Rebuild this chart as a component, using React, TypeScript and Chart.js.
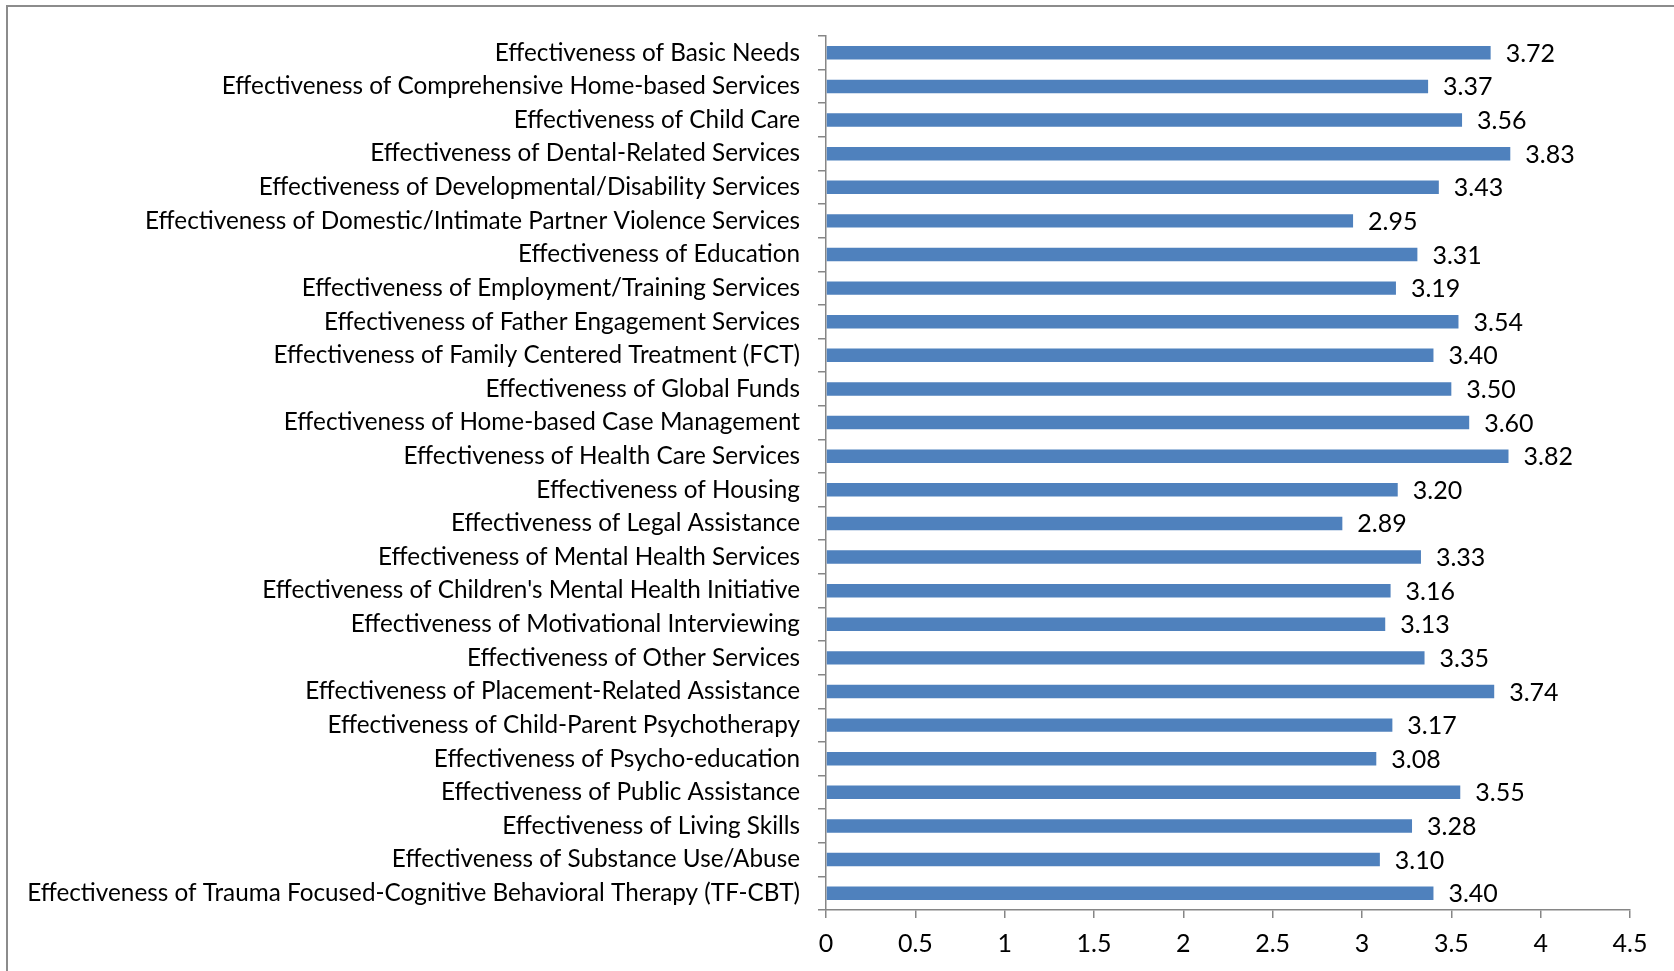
import React, { useEffect, useRef } from "react";
import { Chart, registerables } from "chart.js";

Chart.register(...registerables);

const categories = [
  "Effectiveness of Basic Needs",
  "Effectiveness of Comprehensive Home-based Services",
  "Effectiveness of Child Care",
  "Effectiveness of Dental-Related Services",
  "Effectiveness of Developmental/Disability Services",
  "Effectiveness of Domestic/Intimate Partner Violence Services",
  "Effectiveness of Education",
  "Effectiveness of Employment/Training Services",
  "Effectiveness of Father Engagement Services",
  "Effectiveness of Family Centered Treatment (FCT)",
  "Effectiveness of Global Funds",
  "Effectiveness of Home-based Case Management",
  "Effectiveness of Health Care Services",
  "Effectiveness of Housing",
  "Effectiveness of Legal Assistance",
  "Effectiveness of Mental Health Services",
  "Effectiveness of Children's Mental Health Initiative",
  "Effectiveness of Motivational Interviewing",
  "Effectiveness of Other Services",
  "Effectiveness of Placement-Related Assistance",
  "Effectiveness of Child-Parent Psychotherapy",
  "Effectiveness of Psycho-education",
  "Effectiveness of Public Assistance",
  "Effectiveness of Living Skills",
  "Effectiveness of Substance Use/Abuse",
  "Effectiveness of Trauma Focused-Cognitive Behavioral Therapy (TF-CBT)",
];

const values = [
  3.72, 3.37, 3.56, 3.83, 3.43, 2.95, 3.31, 3.19, 3.54, 3.4, 3.5, 3.6, 3.82,
  3.2, 2.89, 3.33, 3.16, 3.13, 3.35, 3.74, 3.17, 3.08, 3.55, 3.28, 3.1, 3.4,
];

const xMin = 0;
const xMax = 4.5;
const xStep = 0.5;

const FONT = "Lato, 'Liberation Sans', sans-serif";
const AXIS_COLOR = "#868686";
const BAR_COLOR = "#4F81BD";

const dataLabelPlugin = {
  id: "valueLabels",
  afterDatasetsDraw(chart: any) {
    const ctx = chart.ctx;
    ctx.save();
    ctx.font = `25px ${FONT}`;
    ctx.fillStyle = "#000000";
    ctx.textAlign = "left";
    ctx.textBaseline = "middle";
    chart.data.datasets.forEach((ds: any, di: number) => {
      const meta = chart.getDatasetMeta(di);
      meta.data.forEach((bar: any, i: number) => {
        const v = ds.data[i] as number;
        ctx.fillText(v.toFixed(2), bar.x + 15, bar.y + 1);
      });
    });
    ctx.restore();
  },
};

export default function App() {
  const ref = useRef<HTMLCanvasElement | null>(null);

  useEffect(() => {
    if (!ref.current) return;
    const chart = new Chart(ref.current, {
      type: "bar",
      data: {
        labels: categories,
        datasets: [
          {
            data: values,
            backgroundColor: BAR_COLOR,
            borderWidth: 0,
            categoryPercentage: 0.5,
            barPercentage: 0.8,
          },
        ],
      },
      options: {
        indexAxis: "y",
        animation: false,
        responsive: false,
        devicePixelRatio: 1,
        layout: { padding: { top: 36, right: 44, left: 0, bottom: 0 } },
        plugins: {
          legend: { display: false },
          tooltip: { enabled: false },
        },
        scales: {
          x: {
            min: xMin,
            max: xMax,
            ticks: {
              stepSize: xStep,
              color: "#000000",
              font: { family: FONT, size: 25 },
              padding: 11,
              callback: (v: any) => String(Number(v)),
            },
            grid: {
              drawOnChartArea: false,
              drawTicks: true,
              tickLength: 8,
              color: AXIS_COLOR,
              lineWidth: 1.5,
            },
            border: { color: AXIS_COLOR, width: 1.5 },
            afterFit: (s: any) => {
              s.height = 61;
            },
          },
          y: {
            ticks: {
              color: "#000000",
              font: { family: FONT, size: 24.3 },
              padding: 18,
              autoSkip: false,
            },
            grid: {
              drawOnChartArea: false,
              drawTicks: true,
              tickLength: 8,
              color: AXIS_COLOR,
              lineWidth: 1.5,
            },
            border: { color: AXIS_COLOR, width: 1.5 },
            afterFit: (s: any) => {
              s.width = 826;
            },
          },
        },
      },
      plugins: [dataLabelPlugin],
    });
    return () => chart.destroy();
  }, []);

  return (
    <div
      style={{
        position: "fixed",
        left: 0,
        top: 0,
        width: 1674,
        height: 971,
        background: "#ffffff",
        overflow: "hidden",
      }}
    >
      <div
        style={{
          position: "absolute",
          left: 6,
          top: 5,
          width: 1700,
          height: 1000,
          borderLeft: "2px solid #8c8c8c",
          borderTop: "2px solid #8c8c8c",
        }}
      />
      <canvas
        ref={ref}
        width={1674}
        height={971}
        style={{ position: "absolute", left: 0, top: 0, width: 1674, height: 971 }}
      />
    </div>
  );
}
